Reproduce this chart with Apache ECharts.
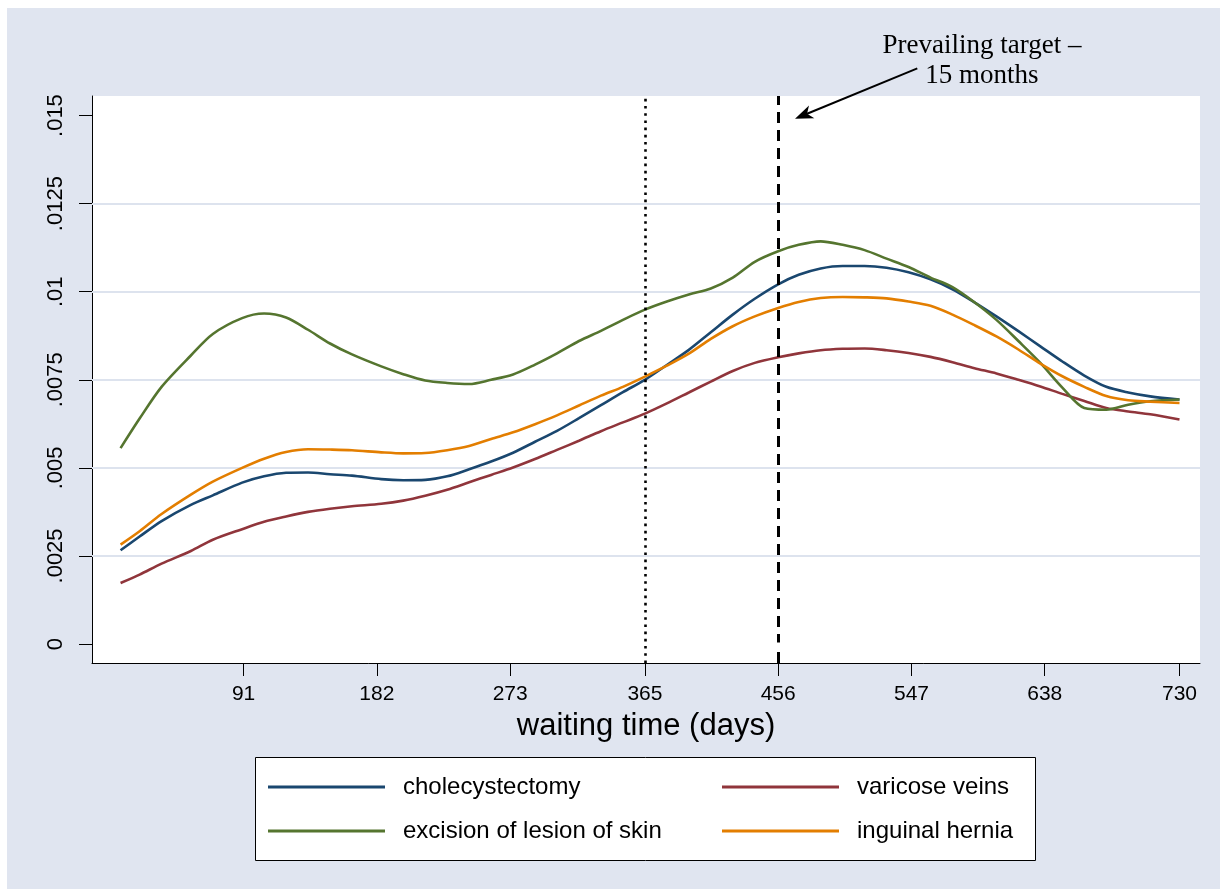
<!DOCTYPE html>
<html><head><meta charset="utf-8">
<script src="https://cdn.jsdelivr.net/npm/echarts@6/dist/echarts.min.js"></script>
<style>html,body{margin:0;padding:0;background:#fff}#c{width:1227px;height:896px}</style>
</head><body><div id="c"></div>
<script>
// ---- data ----
const days = [7,20,35,55,70,90,105,120,135,150,165,185,200,215,230,245,260,275,290,305,320,335,350,365,380,395,410,425,440,456,470,485,500,515,530,545,560,575,590,605,620,635,650,665,680,695,710,730];
const cholecystectomy = [.00266,.00305,.00349,.00395,.00422,.00458,.00476,.00486,.00487,.00482,.00478,.00468,.00465,.00466,.00476,.00496,.00518,.00543,.00574,.00605,.00641,.00678,.00715,.00750,.00792,.00835,.00885,.00935,.00980,.01021,.01048,.01066,.01073,.01073,.01068,.01055,.01035,.01007,.00970,.00930,.00888,.00845,.00802,.00762,.00730,.00714,.00703,.00694];
const varicoseVeins = [.00173,.00197,.00228,.00264,.00296,.00326,.00347,.00362,.00375,.00384,.00391,.00398,.00407,.00421,.00438,.00459,.00480,.00501,.00525,.00551,.00577,.00604,.00629,.00654,.00683,.00714,.00745,.00775,.00798,.00814,.00825,.00834,.00838,.00839,.00834,.00826,.00815,.00800,.00783,.00768,.00750,.00731,.00710,.00690,.00670,.00660,.00652,.00637];
const excisionSkin = [.00556,.00640,.00730,.00819,.00880,.00925,.00938,.00927,.00892,.00853,.00822,.00788,.00766,.00748,.00741,.00738,.00750,.00765,.00793,.00825,.00860,.00889,.00920,.00949,.00972,.00992,.01009,.01040,.01085,.01115,.01133,.01143,.01133,.01118,.01094,.01070,.01040,.01013,.00970,.00920,.00860,.00798,.00728,.00670,.00665,.00679,.00689,.00694];
const inguinalHernia = [.00282,.00320,.00369,.00424,.00461,.00500,.00526,.00545,.00553,.00552,.00550,.00544,.00541,.00542,.00550,.00562,.00582,.00601,.00624,.00649,.00677,.00705,.00730,.00759,.00790,.00824,.00866,.00902,.00930,.00954,.00971,.00982,.00985,.00984,.00981,.00972,.00960,.00935,.00905,.00873,.00836,.00796,.00760,.00730,.00704,.00692,.00688,.00684];
const seriesNames = ['cholecystectomy','varicose veins','excision of lesion of skin','inguinal hernia'];
const xTicks = [91,182,273,365,456,547,638,730];
const yTicks = [0,0.0025,0.005,0.0075,0.01,0.0125,0.015];
const yTickLabels = ['0','.0025','.005','.0075','.01','.0125','.015'];
const yGridValues = [0.0025,0.005,0.0075,0.01,0.0125];
const dottedLineDay = 365;
const dashedLineDay = 456;
const annotationLines = ['Prevailing target \u2013','15 months'];
const arrowFrom = [551, 0.01634];
const arrowTo = [467.5, 0.01491];
const xTitle = 'waiting time (days)';
const xRange = [-12.5, 744];
const yRange = [-0.000539, 0.015555];

// ---- styling ----
const SANS = "'Liberation Sans',Arial,sans-serif";
const SERIF = "'Liberation Serif','Times New Roman',serif";
const BG = '#e0e5f0';
const colors = ['#1a476f','#90353b','#55752f','#e37e00'];
const seriesData = [cholecystectomy, varicoseVeins, excisionSkin, inguinalHernia];
const noLine = {show: false, lineStyle: {color: 'rgba(0,0,0,0)', width: 0}};

const chart = echarts.init(document.getElementById('c'), null, {renderer:'canvas'});

const series = seriesData.map((vals, i) => ({
  name: seriesNames[i], type: 'line', symbol: 'none', smooth: 0.3,
  data: days.map((d, k) => [d, vals[k]]),
  lineStyle: {color: colors[i], width: 2.6}, itemStyle: {color: colors[i]},
  z: 3
}));
// gridlines on the first series, reference lines on the second
series[0].markLine = {silent: true, symbol: 'none', precision: 8, label: {show: false}, animation: false, z: 1,
  lineStyle: {color: '#dde3ee', width: 2, type: 'solid'},
  data: yGridValues.map(v => ({yAxis: v}))};
series[1].markLine = {silent: true, symbol: 'none', precision: 8, label: {show: false}, animation: false,
  data: [
    {xAxis: dottedLineDay, lineStyle: {color: '#000', width: 2.6, type: [2.6, 4.6]}},
    {xAxis: dashedLineDay, lineStyle: {color: '#000', width: 3, type: [11, 7]}}
  ]};

const legendCommon = {
  orient: 'vertical', icon: 'rect', itemWidth: 117, itemHeight: 3, itemGap: 20, padding: 0,
  selectedMode: false,
  textStyle: {fontFamily: SANS, fontSize: 24, lineHeight: 24, color: '#000', padding: [0,0,0,13]}
};

chart.setOption({
  animation: false,
  backgroundColor: 'transparent',
  grid: {left: 92, right: 27, top: 96, bottom: 233, show: true, backgroundColor: '#fff', borderWidth: 0, borderColor: 'rgba(0,0,0,0)'},
  xAxis: {
    type: 'value', min: xRange[0], max: xRange[1],
    name: xTitle, nameLocation: 'middle', nameGap: 48,
    nameTextStyle: {fontFamily: SANS, fontSize: 31, color: '#000'},
    axisLine: {show: true, onZero: false, lineStyle: {color: '#000', width: 1}},
    axisTick: {show: true, length: 13, customValues: xTicks, lineStyle: {color: '#000'}},
    axisLabel: {customValues: xTicks, margin: 21, fontFamily: SANS, fontSize: 21, color: '#000'},
    splitLine: noLine, minorSplitLine: noLine, splitArea: {show: false}
  },
  yAxis: {
    type: 'value', min: yRange[0], max: yRange[1],
    axisLine: {show: true, onZero: false, lineStyle: {color: '#000', width: 1}},
    axisTick: {show: true, length: 13, customValues: yTicks, lineStyle: {color: '#000'}},
    axisLabel: {customValues: yTicks, rotate: 90, margin: 25, fontFamily: SANS, fontSize: 22, color: '#000',
      formatter: v => { let best = 0; yTicks.forEach((t, i) => { if (Math.abs(t - v) < Math.abs(yTicks[best] - v)) best = i; }); return yTickLabels[best]; }},
    splitLine: noLine, minorSplitLine: noLine, splitArea: {show: false}
  },
  legend: [
    Object.assign({}, legendCommon, {data: [seriesNames[0], seriesNames[2]], left: 268, top: 775}),
    Object.assign({}, legendCommon, {data: [seriesNames[1], seriesNames[3]], left: 722, top: 775})
  ],
  series: series
});

// annotation arrow & text placed through the chart's own scales
const p0 = chart.convertToPixel({gridIndex: 0}, arrowFrom);
const p1 = chart.convertToPixel({gridIndex: 0}, arrowTo);
const dx = p1[0] - p0[0], dy = p1[1] - p0[1];
const L = Math.hypot(dx, dy), ux = dx / L, uy = dy / L, nx = -uy, ny = ux;
const headLen = 18, headW = 7, notch = 5;
const base = [p1[0] - ux * headLen, p1[1] - uy * headLen];
const notchPt = [p1[0] - ux * (headLen - notch), p1[1] - uy * (headLen - notch)];
// the library draws a faint zero line; mask it with the plot background
const z0 = chart.convertToPixel({gridIndex: 0}, [xRange[0], 0]);
const z1 = chart.convertToPixel({gridIndex: 0}, [xRange[1], 0]);

chart.setOption({
  graphic: [
    {type: 'rect', z: -10, silent: true, shape: {x: 7, y: 8, width: 1213, height: 881}, style: {fill: BG}},
    {type: 'line', z: 50, silent: true, shape: {x1: z0[0] + 1, y1: z0[1], x2: z1[0], y2: z1[1]}, style: {stroke: '#fff', lineWidth: 3}},
    {type: 'rect', z: 1, silent: true, shape: {x: 255.5, y: 757.5, width: 780, height: 103}, style: {fill: '#fff', stroke: '#000', lineWidth: 1}},
    {type: 'line', z: 60, silent: true, shape: {x1: p0[0], y1: p0[1], x2: notchPt[0], y2: notchPt[1]}, style: {stroke: '#000', lineWidth: 2}},
    {type: 'polygon', z: 60, silent: true, shape: {points: [p1, [base[0] + nx * headW, base[1] + ny * headW], notchPt, [base[0] - nx * headW, base[1] - ny * headW]]}, style: {fill: '#000'}},
    {type: 'text', z: 60, silent: true, x: 982, y: 61, style: {text: annotationLines.join('\n'), font: '27px ' + SERIF, fill: '#000', align: 'center', verticalAlign: 'middle', lineHeight: 30}}
  ]
});
</script></body></html>
